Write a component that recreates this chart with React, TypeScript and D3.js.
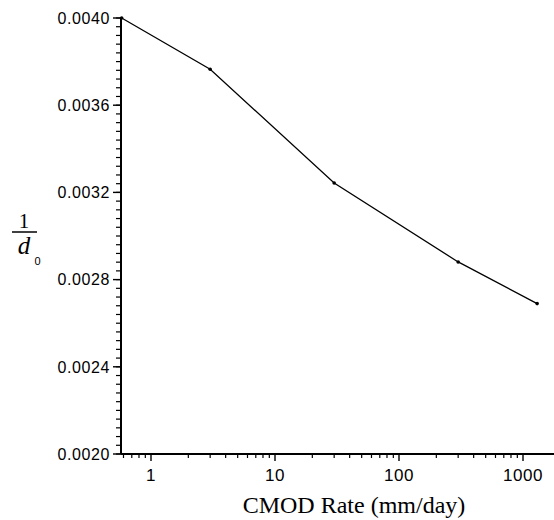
import React from "react";
import * as d3 from "d3";

const rates = [0.58, 3, 30, 300, 1300];
const invD0 = [0.004, 0.003765, 0.003243, 0.002881, 0.00269];
const xMajorTicks = [1, 10, 100, 1000];
const yMajorTicks = [0.002, 0.0024, 0.0028, 0.0032, 0.0036, 0.004];

const W = 554, H = 520;
const left = 121, top = 18, bottom = 454;

export default function App() {
  // log scale: 1 -> 151, one decade = 124 px
  const x = d3.scaleLog().domain([1, 10]).range([151, 275]);
  const y = d3.scaleLinear().domain([0.002, 0.004]).range([bottom, top]);

  const minorX: number[] = [];
  for (let e = -1; e <= 3; e++) {
    for (let m = 2; m <= 9; m++) {
      const v = m * Math.pow(10, e);
      if (x(v) >= left && x(v) <= W) minorX.push(v);
    }
  }
  const minorY: number[] = [];
  for (let i = 0; i <= 50; i++) minorY.push(0.002 + i * 0.00004);

  const line = d3.line<number>().x((_, i) => x(rates[i])).y((d) => y(d));

  return (
    <svg width={W} height={H} style={{ position: "absolute", left: 0, top: 0 }}>
      <rect width={W} height={H} fill="#fff" />
      <line x1={left} x2={left} y1={top} y2={bottom} stroke="#000" strokeWidth={2} />
      <line x1={left} x2={W} y1={bottom} y2={bottom} stroke="#000" strokeWidth={2} />
      {minorY.map((v, i) => (
        <line key={"my" + i} x1={left - 5} x2={left} y1={y(v)} y2={y(v)} stroke="#000" strokeWidth={1.2} />
      ))}
      {yMajorTicks.map((v) => (
        <g key={"y" + v}>
          <line x1={left - 8} x2={left} y1={y(v)} y2={y(v)} stroke="#000" strokeWidth={1.4} />
          <text x={left - 11} y={y(v)} dy="0.36em" textAnchor="end" fontFamily="Liberation Sans, Arial, sans-serif" fontSize={16} letterSpacing={0.6}>
            {v.toFixed(4)}
          </text>
        </g>
      ))}
      {minorX.map((v, i) => (
        <line key={"mx" + i} x1={x(v)} x2={x(v)} y1={bottom} y2={bottom + 4} stroke="#000" strokeWidth={1.2} />
      ))}
      {xMajorTicks.map((v) => (
        <g key={"x" + v}>
          <line x1={x(v)} x2={x(v)} y1={bottom} y2={bottom + 7} stroke="#000" strokeWidth={1.4} />
          <text x={x(v)} y={481} textAnchor="middle" fontFamily="Liberation Sans, Arial, sans-serif" fontSize={17} letterSpacing={0.5}>
            {String(v)}
          </text>
        </g>
      ))}
      <path d={line(invD0) || ""} fill="none" stroke="#000" strokeWidth={1.3} />
      {invD0.map((d, i) => (
        <circle key={"p" + i} cx={x(rates[i])} cy={y(d)} r={1.8} fill="#000" />
      ))}
      <text x={354} y={513} textAnchor="middle" fontFamily="Liberation Serif, Times New Roman, serif" fontSize={24}>
        CMOD Rate (mm/day)
      </text>
      <text x={24} y={228} textAnchor="middle" fontFamily="Liberation Serif, serif" fontSize={21}>1</text>
      <line x1={12} x2={37} y1={232} y2={232} stroke="#000" strokeWidth={1.5} />
      <text x={24} y={254} textAnchor="middle" fontFamily="Liberation Serif, serif" fontStyle="italic" fontSize={25}>d</text>
      <text x={37.5} y={265} textAnchor="middle" fontFamily="Liberation Sans, sans-serif" fontSize={11}>0</text>
    </svg>
  );
}
